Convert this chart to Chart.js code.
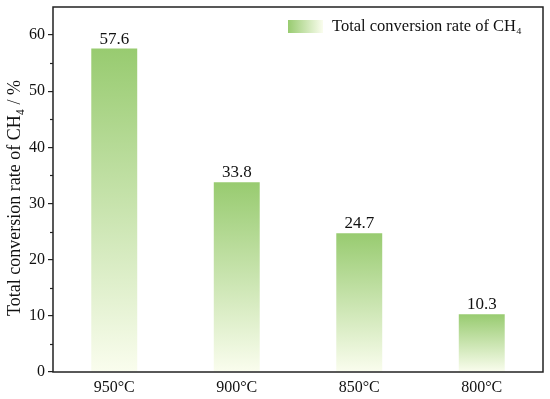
<!DOCTYPE html>
<html><head><meta charset="utf-8">
<script src="https://cdn.jsdelivr.net/npm/chart.js@4"></script>
<style>html,body{margin:0;padding:0;background:#fff}#wrap{width:550px;height:399px}</style>
</head><body><div id="wrap"><canvas id="c" width="550" height="399"></canvas></div>
<script>
const categories = ['950°C', '900°C', '850°C', '800°C'];
const conversion = [57.6, 33.8, 24.7, 10.3];
const valueLabels = ['57.6', '33.8', '24.7', '10.3'];
const yTicks = [0, 10, 20, 30, 40, 50, 60];
const seriesName = 'Total conversion rate of CH₄';
const yTitle = 'Total conversion rate of CH₄ / %';

const FONT = '"Liberation Serif", "Times New Roman", serif';
const TOP_COL = 'rgb(152,203,112)';
const BOT_COL = 'rgb(250,253,238)';

function barGradient(ctx) {
  const chart = ctx.chart;
  const y = chart.scales.y;
  if (!chart.chartArea || !y) return TOP_COL;
  const v = ctx.raw;
  const top = y.getPixelForValue(v), bot = y.getPixelForValue(0);
  const g = chart.ctx.createLinearGradient(0, top, 0, bot);
  g.addColorStop(0, TOP_COL);
  g.addColorStop(1, BOT_COL);
  return g;
}

const decor = {
  id: 'decor',
  afterDraw(chart) {
    const c = chart.ctx, a = chart.chartArea, y = chart.scales.y;
    c.save();
    c.strokeStyle = '#222'; c.lineWidth = 1.5;
    c.strokeRect(a.left, a.top, a.right - a.left, a.bottom - a.top);
    c.lineWidth = 1.2;
    for (let v = 5; v < 65; v += 10) {
      const p = Math.round(y.getPixelForValue(v)) + 0.5;
      c.beginPath(); c.moveTo(a.left - 3, p); c.lineTo(a.left, p); c.stroke();
    }
    c.fillStyle = '#111'; c.font = '17px ' + FONT; c.textAlign = 'center'; c.textBaseline = 'bottom';
    const meta = chart.getDatasetMeta(0);
    meta.data.forEach((bar, i) => { c.fillText(valueLabels[i], bar.x, bar.y - 1); });
    c.save();
    c.translate(15, 198); c.rotate(-Math.PI / 2);
    c.font = '18px ' + FONT; c.textAlign = 'center'; c.textBaseline = 'middle';
    c.fillText(yTitle, 0, 0);
    c.restore();
    const lx = 288, ly = 20, lw = 35, lh = 13;
    const lg = c.createLinearGradient(lx, 0, lx + lw, 0);
    lg.addColorStop(0, TOP_COL); lg.addColorStop(1, BOT_COL);
    c.fillStyle = lg; c.fillRect(lx, ly, lw, lh);
    c.fillStyle = '#111'; c.font = '16.5px ' + FONT; c.textAlign = 'left'; c.textBaseline = 'middle';
    c.fillText(seriesName, 332, ly + lh / 2 + 0.5);
    c.restore();
  }
};

new Chart(document.getElementById('c'), {
  type: 'bar',
  data: {
    labels: categories,
    datasets: [{ label: seriesName, data: conversion, backgroundColor: barGradient, borderWidth: 0,
      barPercentage: 0.375, categoryPercentage: 1 }]
  },
  options: {
    responsive: false, animation: false,
    layout: { padding: { top: 7, right: 7, left: 0, bottom: 0 } },
    plugins: { legend: { display: false }, tooltip: { enabled: false } },
    scales: {
      x: {
        grid: { display: false, drawTicks: false },
        border: { display: false },
        ticks: { color: '#111', font: { family: FONT, size: 16 }, padding: 6 },
        afterFit(s) { s.height = 27; s.paddingLeft = 0; s.paddingRight = 0; }
      },
      y: {
        min: 0, max: 65,
        afterBuildTicks(s) { s.ticks = yTicks.map(v => ({ value: v })); },
        grid: { drawOnChartArea: false, tickLength: 5, color: '#222', lineWidth: 1.2 },
        border: { display: false },
        ticks: { color: '#111', font: { family: FONT, size: 16 }, padding: 3 },
        afterFit(s) { s.width = 53; s.paddingTop = 0; s.paddingBottom = 0; }
      }
    }
  },
  plugins: [decor]
});
</script></body></html>
